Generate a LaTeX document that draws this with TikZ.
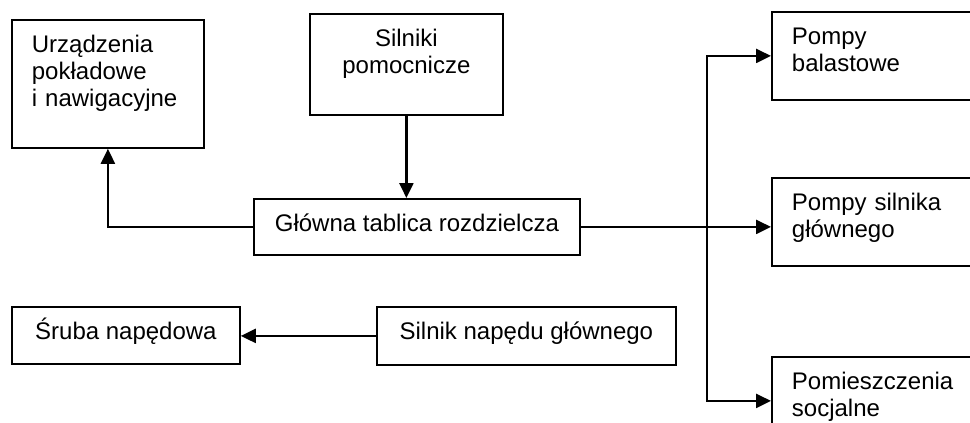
\documentclass[tikz,border=0pt]{standalone}
\usepackage{fontspec}
\setmainfont{Liberation Sans}
\usetikzlibrary{arrows.meta}

\begin{document}
\begin{tikzpicture}[x=0.5pt, y=-0.5pt,
    blok/.style={draw, rectangle, line width=0.9pt, anchor=north west, inner xsep=10pt, inner ysep=0pt, text height=16.5pt, align=left, font=\fontsize{12pt}{13.5pt}\selectfont},
    strzalka/.style={-{Triangle[length=7.5pt, width=7pt]}, line width=1.2pt}]
    \path[use as bounding box, clip] (0,0) rectangle (970,423);

    % Odbiorniki po lewej i zrodlo u gory
    \node[blok, text width=76pt, text depth=47.5pt] (urzadzenia) at (11,19) {Urządzenia\\pokładowe\\i nawigacyjne};
    \node[blok, align=center, text width=76.5pt, text depth=34pt] (silniki) at (309,13) {Silniki\\pomocnicze};

    % Tablica - w srodku
    \node[blok, minimum width=163pt, text depth=11.5pt] (tablica) at (253,198) {Główna tablica rozdzielcza};

    % Naped glowny - na dole
    \node[blok, minimum width=114pt, text depth=12pt] (sruba) at (11,306) {Śruba napędowa};
    \node[blok, minimum width=149.5pt, text depth=12.5pt] (silnik) at (376,306) {Silnik napędu głównego};

    % Odbiorniki po prawej - obciete przez krawedz
    \node[blok, text width=90pt, text depth=27.5pt] (balast) at (771,11) {Pompy\\balastowe};
    \node[blok, text width=90pt, text depth=27.5pt] (pompysil) at (771,177) {Pompy silnika\\głównego};
    \node[blok, text width=90pt, text depth=27.5pt] (socjalne) at (771,356) {Pomieszczenia\\socjalne};

    % Polaczenia
    \draw[strzalka] (silniki.south) -- (silniki.south |- tablica.north);
    \draw[strzalka] (tablica.west) -| (urzadzenia.south);
    \draw[strzalka] (tablica.east) -- (tablica.east -| pompysil.west);
    \coordinate (szyna) at (707,226);
    \draw[strzalka] (szyna) |- (balast.west);
    \draw[strzalka] (szyna) |- (socjalne.west);
    \draw[strzalka] (silnik.west) -- (silnik.west -| sruba.east);
\end{tikzpicture}
\end{document}
